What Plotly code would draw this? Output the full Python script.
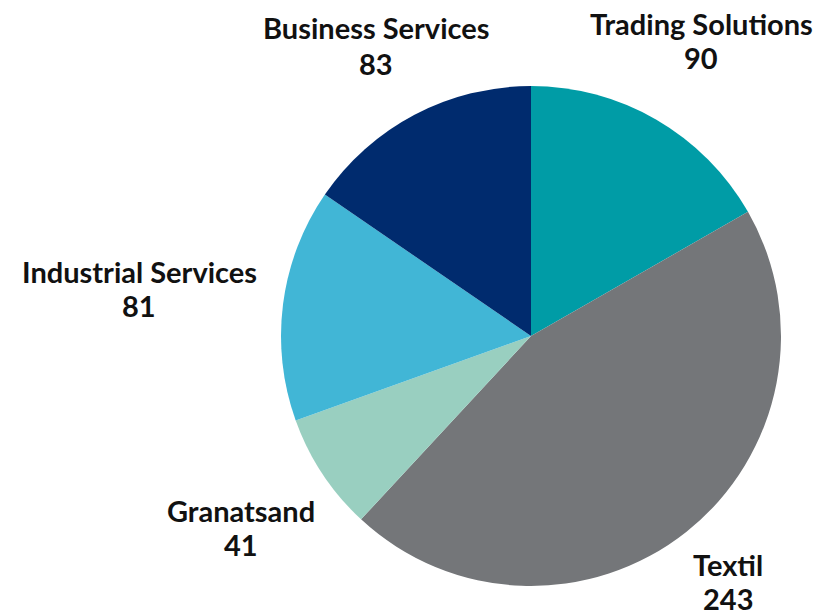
import plotly.graph_objects as go

labels = ["Trading Solutions", "Textil", "Granatsand", "Industrial Services", "Business Services"]
values = [90, 243, 41, 81, 83]
colors = ["#009ca6", "#747679", "#99cfc0", "#41b6d6", "#002b6e"]

OFF = 8  # page body margin
W, H = 825 - OFF, 611 - OFF
# label centre positions in window pixels: (x, name y, value y)
label_pos = [(701, 24, 58), (728, 564, 598), (241, 510, 544), (139, 271, 305), (376, 28, 63)]

cx, cy, r = 531 - OFF, 336 - OFF, 250

fig = go.Figure(go.Pie(
    labels=labels, values=values, sort=False, direction="clockwise", rotation=0,
    marker=dict(colors=colors, line=dict(width=0)),
    textinfo="none", hoverinfo="label+value", showlegend=False,
    domain=dict(x=[(cx - r) / W, (cx + r) / W], y=[1 - (cy + r) / H, 1 - (cy - r) / H]),
))

font = dict(family="Lato", size=29, color="#111111", weight="bold")
for lab, val, (px, ny, vy) in zip(labels, values, label_pos):
    for txt, py in ((lab, ny), (str(val), vy)):
        fig.add_annotation(
            x=(px - OFF) / W, y=1 - (py - OFF) / H, xref="paper", yref="paper",
            text=txt, showarrow=False, xanchor="center", yanchor="middle", font=font,
            borderpad=0,
        )

fig.update_layout(width=W, height=H, margin=dict(l=0, r=0, t=0, b=0),
                  paper_bgcolor="white", plot_bgcolor="white")
fig.write_html("out.html")
